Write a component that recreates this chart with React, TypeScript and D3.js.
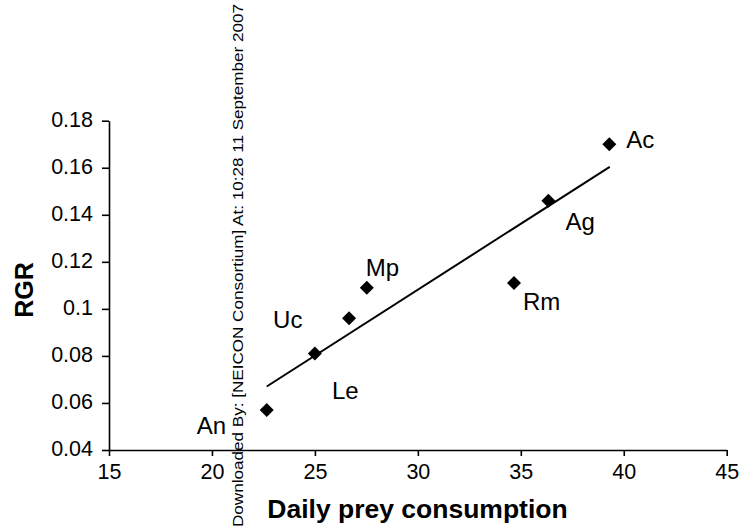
import React, { useEffect, useRef } from 'react';
import * as d3 from 'd3';

const species = ['Ac', 'Ag', 'Rm', 'Mp', 'Uc', 'Le', 'An'];
const consumption = [39.3, 36.34, 34.67, 27.52, 26.66, 25.0, 22.66];
const rgr = [0.170, 0.146, 0.111, 0.109, 0.096, 0.081, 0.057];
// regression line end points
const fitX = [22.66, 39.32];
const fitY = [0.067, 0.1604];
const xTicks = [15, 20, 25, 30, 35, 40, 45];
const yTicks = [0.04, 0.06, 0.08, 0.1, 0.12, 0.14, 0.16, 0.18];
// label offsets (px) from each point
const labelDx = [17, 17, 9, -1, -76, 17, -70];
const labelDy = [4, 29, 27, -12, 10, 45, 24];

const W = 743;
const H = 531;

function App() {
  const ref = useRef<SVGSVGElement>(null);

  useEffect(() => {
    const svg = d3.select(ref.current);
    svg.selectAll('*').remove();
    const font = '"Liberation Sans", Arial, sans-serif';

    const x = d3.scaleLinear().domain([15, 45]).range([109, 726.7]);
    const y = d3.scaleLinear().domain([0.04, 0.18]).range([450, 120.7]);

    const xAxis = svg.append('g')
      .attr('transform', `translate(0,${y(0.04)})`)
      .call(d3.axisBottom(x).tickValues(xTicks).tickSize(6).tickSizeOuter(0).tickPadding(8).tickFormat(d3.format('d')));
    const yAxis = svg.append('g')
      .attr('transform', `translate(${x(15)},0)`)
      .call(d3.axisLeft(y).tickValues(yTicks).tickSize(7).tickSizeOuter(0).tickPadding(9)
        .tickFormat(d => String(+(+d).toFixed(2))));

    [xAxis, yAxis].forEach(g => {
      g.select('.domain').attr('stroke', '#000').attr('stroke-width', 1.6);
      g.selectAll('.tick line').attr('stroke', '#000').attr('stroke-width', 1.6);
      g.selectAll('.tick text').attr('fill', '#000').attr('font-family', font).attr('font-size', 21.5);
    });
    yAxis.selectAll('.tick text').attr('dy', '0.25em');

    // regression line
    svg.append('line')
      .attr('x1', x(fitX[0])).attr('y1', y(fitY[0]))
      .attr('x2', x(fitX[1])).attr('y2', y(fitY[1]))
      .attr('stroke', '#000').attr('stroke-width', 2);

    const data = species.map((s, i) => ({ s, cx: consumption[i], r: rgr[i], dx: labelDx[i], dy: labelDy[i] }));

    const sym = d3.symbol().type(d3.symbolSquare).size(98);
    svg.selectAll('.pt')
      .data(data)
      .enter()
      .append('path')
      .attr('class', 'pt')
      .attr('d', sym)
      .attr('transform', d => `translate(${x(d.cx)},${y(d.r)}) rotate(45)`)
      .attr('fill', '#000');

    svg.selectAll('.lbl')
      .data(data)
      .enter()
      .append('text')
      .attr('class', 'lbl')
      .attr('x', d => x(d.cx) + d.dx)
      .attr('y', d => y(d.r) + d.dy)
      .attr('font-family', font)
      .attr('font-size', 24)
      .attr('fill', '#000')
      .text(d => d.s);

    svg.append('text')
      .attr('x', 417.5).attr('y', 518)
      .attr('text-anchor', 'middle')
      .attr('font-family', font).attr('font-weight', 'bold').attr('font-size', 26.5)
      .text('Daily prey consumption');

    svg.append('text')
      .attr('transform', 'translate(33,290) rotate(-90)')
      .attr('text-anchor', 'middle')
      .attr('font-family', font).attr('font-weight', 'bold').attr('font-size', 25)
      .text('RGR');

    // download stamp
    svg.append('text')
      .attr('transform', 'translate(243,527) rotate(-90)')
      .attr('font-family', font).attr('font-size', 15)
      .attr('textLength', 523).attr('lengthAdjust', 'spacingAndGlyphs')
      .text('Downloaded By: [NEICON Consortium] At: 10:28 11 September 2007');
  }, []);

  return (
    <svg ref={ref} width={W} height={H} style={{ position: 'absolute', left: 0, top: 0, background: '#fff' }} />
  );
}

export default App;
